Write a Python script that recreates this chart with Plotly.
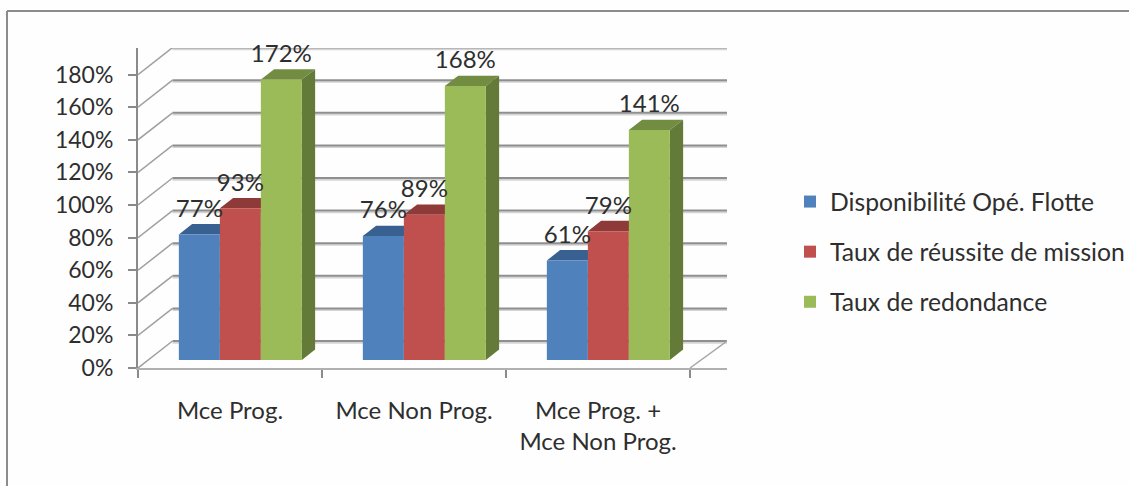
import plotly.graph_objects as go

categories = ["Mce Prog.", "Mce Non Prog.", "Mce Prog. +<br>Mce Non Prog."]
series_names = ["Disponibilité Opé. Flotte", "Taux de réussite de mission", "Taux de redondance"]
dispo = [77, 76, 61]
reussite = [93, 89, 79]
redondance = [172, 168, 141]
y_ticks = [0, 20, 40, 60, 80, 100, 120, 140, 160, 180]

all_series = [dispo, reussite, redondance]
front_colors = ["#4F81BD", "#C0504D", "#9BBB59"]
top_colors = ["#386090", "#8E3A38", "#728C42"]
side_colors = ["#35597F", "#8A3836", "#647A39"]

W, H = 1129, 486
L, R, T, B = 138, 727, 48, 368
PX_PER_PCT = 32.6 / 20
PX_PER_CAT = 184.0
X_RANGE = [0, (R - L) / PX_PER_CAT]
Y_RANGE = [0, (B - T) / PX_PER_PCT]
DX = 34.5 / PX_PER_CAT      # oblique depth, category units
DY = 27 / PX_PER_PCT        # oblique depth, percent units
BAR_W = 41 / PX_PER_CAT
BAR_Z0, BAR_DZ = 0.30, 0.385  # bar's position and extent in the depth
FONT = "Lato, Carlito, Calibri, sans-serif"
TXT = "#2e2e2e"
GRID = "#8f8f8f"

fig = go.Figure()


def poly(xs, ys, color):
    fig.add_trace(go.Scatter(x=xs, y=ys, mode="lines", fill="toself", fillcolor=color,
                             line=dict(width=0), hoverinfo="skip", showlegend=False,
                             xaxis="x", yaxis="y"))


def line(xs, ys, color, width):
    fig.add_trace(go.Scatter(x=xs, y=ys, mode="lines", line=dict(color=color, width=width),
                             hoverinfo="skip", showlegend=False, xaxis="x", yaxis="y"))


# walls: grid on the back wall, diagonals on the side wall
for t in y_ticks:
    line([DX, X_RANGE[1]], [t + DY - 1.0, t + DY - 1.0], "#d4d4d4", 2)
    line([DX, X_RANGE[1]], [t + DY, t + DY], GRID, 2)
    line([0, DX], [t, t + DY], "#a0a0a0", 1.5)
# floor's right edge
line([len(categories), X_RANGE[1]], [0, DY], "#a8a8a8", 1.5)

# depth faces of the bars (below the overlaid front faces)
z0x, z0y = BAR_Z0 * DX, BAR_Z0 * DY
zx, zy = BAR_DZ * DX, BAR_DZ * DY
for c in range(len(categories)):
    for s, vals in enumerate(all_series):
        left = c + 0.5 + z0x + (s - 1.5) * BAR_W
        right = left + BAR_W
        top = vals[c] + z0y
        poly([left, right, right + zx, left + zx, left],
             [top, top, top + zy, top + zy, top], top_colors[s])
        poly([right, right + zx, right + zx, right, right],
             [z0y, z0y + zy, top + zy, top, z0y], side_colors[s])

# front faces
for s, vals in enumerate(all_series):
    fig.add_trace(go.Bar(
        x=[c + 0.5 + z0x + (s - 1) * BAR_W for c in range(len(categories))],
        y=vals, base=[z0y] * len(vals), width=BAR_W,
        marker=dict(color=front_colors[s], line=dict(width=0)),
        name=series_names[s], legendgroup=series_names[s], showlegend=False,
        hoverinfo="skip", xaxis="x2", yaxis="y2"))

# value labels
for s, vals in enumerate(all_series):
    fig.add_trace(go.Scatter(
        x=[c + 0.5 + z0x + (s - 1) * BAR_W for c in range(len(categories))],
        y=[v + z0y + 14.5 for v in vals],
        text=[f"{v}%" for v in vals], mode="text", textposition="middle center",
        textfont=dict(family=FONT, size=24, color=TXT),
        hoverinfo="skip", showlegend=False, cliponaxis=False, xaxis="x2", yaxis="y2"))

# legend entries
for s, name in enumerate(series_names):
    fig.add_trace(go.Scatter(
        x=[None], y=[None], mode="markers", name=name, legendgroup=name,
        marker=dict(symbol="square", size=14, color=front_colors[s]),
        xaxis="x2", yaxis="y2"))

px_x = lambda p: (p - L) / (R - L)
px_y = lambda p: (B - p) / (B - T)

fig.update_layout(
    width=W, height=H, autosize=False,
    margin=dict(l=L, r=W - R, t=T, b=H - B, pad=0, autoexpand=False),
    paper_bgcolor="#fefefe", plot_bgcolor="rgba(0,0,0,0)",
    barmode="overlay",
    font=dict(family=FONT, size=24, color=TXT),
    xaxis=dict(range=X_RANGE, tickmode="array",
               tickvals=[c + 0.5 for c in range(len(categories))], ticktext=categories,
               ticks="", ticklabelstandoff=20, showgrid=False, zeroline=False,
               showline=True, linecolor="#b0b0b0", linewidth=2,
               minor=dict(tickmode="array", tickvals=list(range(len(categories) + 1)),
                          ticks="outside", ticklen=8, tickcolor="#8a8a8a", tickwidth=2, showgrid=False),
               tickfont=dict(family=FONT, size=24, color=TXT)),
    yaxis=dict(range=Y_RANGE, tickmode="array", tickvals=y_ticks,
               ticktext=[f"{t}%" for t in y_ticks], ticks="outside", ticklen=8,
               tickcolor="#8a8a8a", tickwidth=2, ticklabelstandoff=10,
               showgrid=False, zeroline=False, showline=True, linecolor="#8a8a8a", linewidth=2,
               tickfont=dict(family=FONT, size=23, color=TXT)),
    xaxis2=dict(range=X_RANGE, overlaying="x", visible=False),
    yaxis2=dict(range=Y_RANGE, overlaying="y", visible=False),
    legend=dict(x=px_x(790), xanchor="left", y=px_y(252), yanchor="middle",
                tracegroupgap=15, itemsizing="constant", bgcolor="rgba(0,0,0,0)",
                font=dict(family=FONT, size=24.7, color=TXT)),
    shapes=[dict(type="line", xref="paper", yref="paper", x0=px_x(7), x1=px_x(1135), y0=px_y(11), y1=px_y(11),
                 line=dict(color="#8c8c8c", width=2)),
            dict(type="line", xref="paper", yref="paper", x0=px_x(7), x1=px_x(7), y0=px_y(11), y1=px_y(492),
                 line=dict(color="#8c8c8c", width=2))],
)

fig.write_html("out.html", config=dict(displayModeBar=False),
               post_script="document.body.style.margin='0';")
